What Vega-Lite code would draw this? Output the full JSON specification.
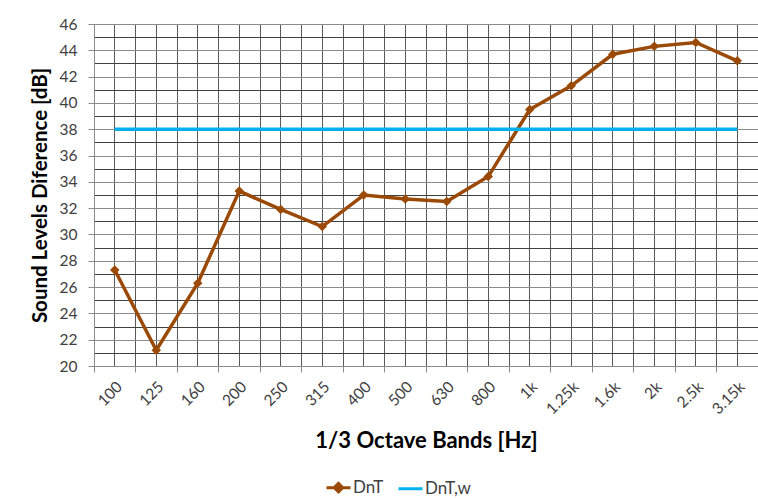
{
  "$schema": "https://vega.github.io/schema/vega-lite/v6.json",
  "autosize": "none",
  "width": 664,
  "height": 342,
  "padding": {"left": 94, "top": 24, "right": 0, "bottom": 132},
  "background": "white",
  "config": {"view": {"stroke": "#808080"}, "font": "Lato"},
  "data": {"values": [
    {"band": "100", "series": "DnT", "value": 27.3},
    {"band": "125", "series": "DnT", "value": 21.2},
    {"band": "160", "series": "DnT", "value": 26.3},
    {"band": "200", "series": "DnT", "value": 33.3},
    {"band": "250", "series": "DnT", "value": 31.9},
    {"band": "315", "series": "DnT", "value": 30.6},
    {"band": "400", "series": "DnT", "value": 33.0},
    {"band": "500", "series": "DnT", "value": 32.7},
    {"band": "630", "series": "DnT", "value": 32.5},
    {"band": "800", "series": "DnT", "value": 34.4},
    {"band": "1k", "series": "DnT", "value": 39.5},
    {"band": "1.25k", "series": "DnT", "value": 41.3},
    {"band": "1.6k", "series": "DnT", "value": 43.7},
    {"band": "2k", "series": "DnT", "value": 44.3},
    {"band": "2.5k", "series": "DnT", "value": 44.6},
    {"band": "3.15k", "series": "DnT", "value": 43.2},
    {"band": "100", "series": "DnT,w", "value": 38},
    {"band": "125", "series": "DnT,w", "value": 38},
    {"band": "160", "series": "DnT,w", "value": 38},
    {"band": "200", "series": "DnT,w", "value": 38},
    {"band": "250", "series": "DnT,w", "value": 38},
    {"band": "315", "series": "DnT,w", "value": 38},
    {"band": "400", "series": "DnT,w", "value": 38},
    {"band": "500", "series": "DnT,w", "value": 38},
    {"band": "630", "series": "DnT,w", "value": 38},
    {"band": "800", "series": "DnT,w", "value": 38},
    {"band": "1k", "series": "DnT,w", "value": 38},
    {"band": "1.25k", "series": "DnT,w", "value": 38},
    {"band": "1.6k", "series": "DnT,w", "value": 38},
    {"band": "2k", "series": "DnT,w", "value": 38},
    {"band": "2.5k", "series": "DnT,w", "value": 38},
    {"band": "3.15k", "series": "DnT,w", "value": 38}
  ]},
  "resolve": {"axis": {"x": "independent", "y": "independent"}},
  "layer": [
    {
      "mark": {"type": "line", "strokeWidth": 3.5},
      "encoding": {
        "x": {
          "field": "band", "type": "ordinal", "sort": null, "bandPosition": 0.5,
          "scale": {"type": "band", "paddingInner": 0, "paddingOuter": 0},
          "axis": {
            "orient": "bottom", "bandPosition": 0.5, "labelAngle": -45,
            "labelFontSize": 15.5, "labelColor": "#404040", "labelPadding": 13,
            "ticks": false, "domain": false,
            "grid": true, "gridColor": "#5a5a5a", "gridWidth": 1,
            "title": "1/3 Octave Bands [Hz]", "titleFontSize": 22, "titleFontWeight": "bold",
            "titleColor": "#000000", "titlePadding": 13
          }
        },
        "y": {
          "field": "value", "type": "quantitative",
          "scale": {"domain": [20, 46], "nice": false, "zero": false},
          "axis": {
            "orient": "left", "values": [20, 22, 24, 26, 28, 30, 32, 34, 36, 38, 40, 42, 44, 46],
            "labelFontSize": 15.5, "labelColor": "#404040", "labelPadding": 11,
            "tickSize": 6, "tickColor": "#8c8c8c", "domainColor": "#8c8c8c",
            "grid": true, "gridColor": "#8c8c8c", "gridWidth": 1,
            "title": "Sound Levels Diference [dB]", "titleFontSize": 20.5, "titleFontWeight": "bold",
            "titleColor": "#000000", "titlePadding": 9
          }
        },
        "color": {
          "field": "series", "type": "nominal",
          "scale": {"domain": ["DnT", "DnT,w"], "range": ["#9a4a06", "#00b0f0"]},
          "legend": {
            "orient": "none", "legendX": 231, "legendY": 450, "direction": "horizontal",
            "title": null, "labelFont": "Lato", "labelFontSize": 17, "labelColor": "#404040",
            "symbolSize": 576, "symbolStrokeWidth": 3, "columnPadding": 8, "labelOffset": 1,
            "encode": {"symbols": {"update": {
              "shape": {"signal": "datum.value === 'DnT' ? 'M-1,0H1M-0.35,0L0,-0.35L0.35,0L0,0.35Z' : 'M-1,0H1'"},
              "fill": {"scale": "color", "field": "value"},
              "stroke": {"scale": "color", "field": "value"}
            }}}
          }
        }
      }
    },
    {
      "transform": [{"filter": "datum.series === 'DnT'"}],
      "mark": {"type": "point", "shape": "diamond", "filled": true, "size": 90, "opacity": 1, "color": "#9a4a06"},
      "encoding": {
        "x": {
          "field": "band", "type": "ordinal", "sort": null, "bandPosition": 0.5,
          "axis": {
            "orient": "bottom", "bandPosition": 0, "labels": false, "title": null,
            "ticks": true, "tickSize": 6, "tickColor": "#8c8c8c", "domainColor": "#8c8c8c",
            "grid": true, "gridColor": "#5a5a5a", "gridWidth": 1
          }
        },
        "y": {
          "field": "value", "type": "quantitative",
          "axis": {
            "orient": "left", "values": [21, 23, 25, 27, 29, 31, 33, 35, 37, 39, 41, 43, 45],
            "labels": false, "ticks": false, "domain": false, "title": null,
            "grid": true, "gridColor": "#404040", "gridWidth": 1
          }
        }
      }
    }
  ]
}
